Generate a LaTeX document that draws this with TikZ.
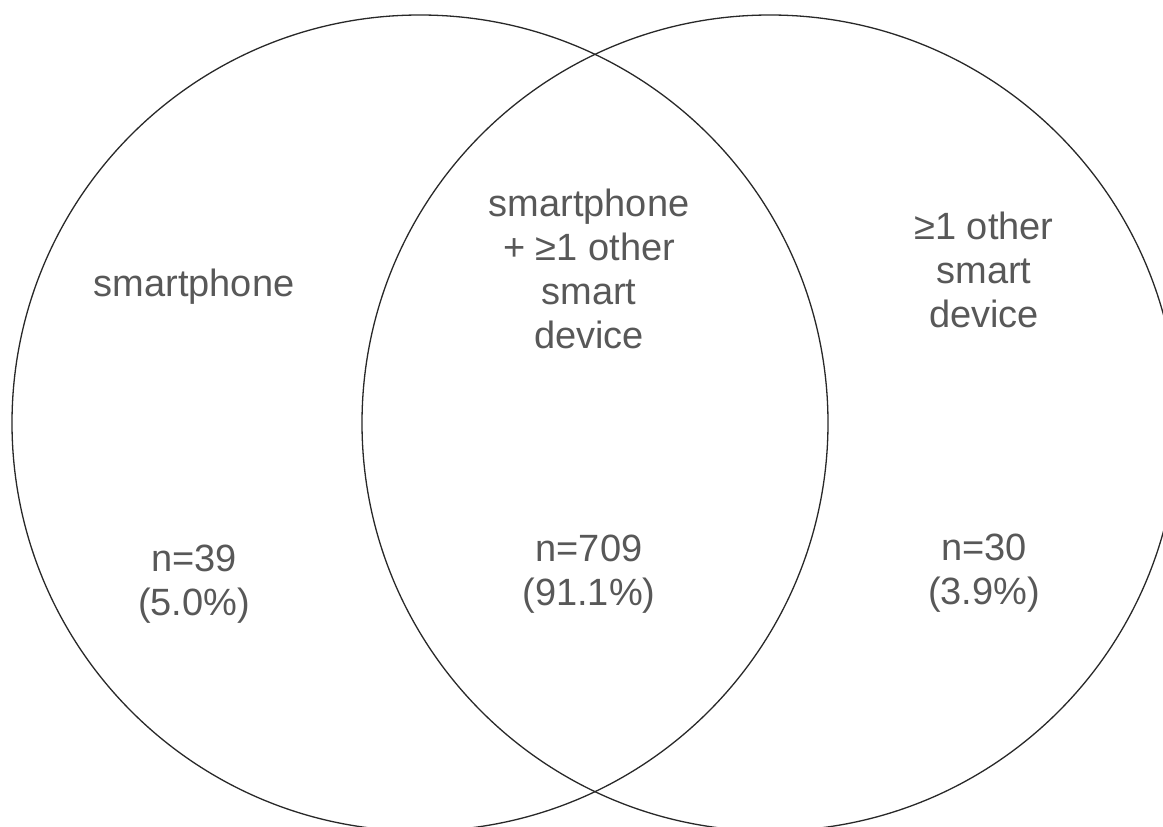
\documentclass[tikz,border=0pt]{standalone}
\usepackage{fontspec}
\setmainfont{Liberation Sans}
\definecolor{txtgray}{RGB}{88,88,88}
\definecolor{linegray}{RGB}{40,40,40}
\begin{document}
\begin{tikzpicture}[x=1pt,y=-1pt,
  setcircle/.style={draw=linegray,line width=1.3pt,circle,minimum size=816pt,inner sep=0pt},
  label/.style={text=txtgray,align=center,inner sep=0pt,anchor=base,
    font=\fontsize{38}{44}\selectfont}]
\useasboundingbox (0,0) rectangle (1163,827);
\begin{scope}
\clip (0,0) rectangle (1163,827);
\node[setcircle] (left) at (420,423) {};
\node[setcircle] (right) at (770,423) {};
\end{scope}
\node[label] (lname) at (194,296) {smartphone};
\node[label] (lcount) at (194,615) {n=39\\(5.0\%)};
\node[label] (cname) at (589,348) {smartphone\\+ ≥1 other\\smart\\device};
\node[label] (ccount) at (589,605) {n=709\\(91.1\%)};
\node[label] (rname) at (984,327) {≥1 other\\smart\\device};
\node[label] (rcount) at (984,604) {n=30\\(3.9\%)};
\end{tikzpicture}
\end{document}
